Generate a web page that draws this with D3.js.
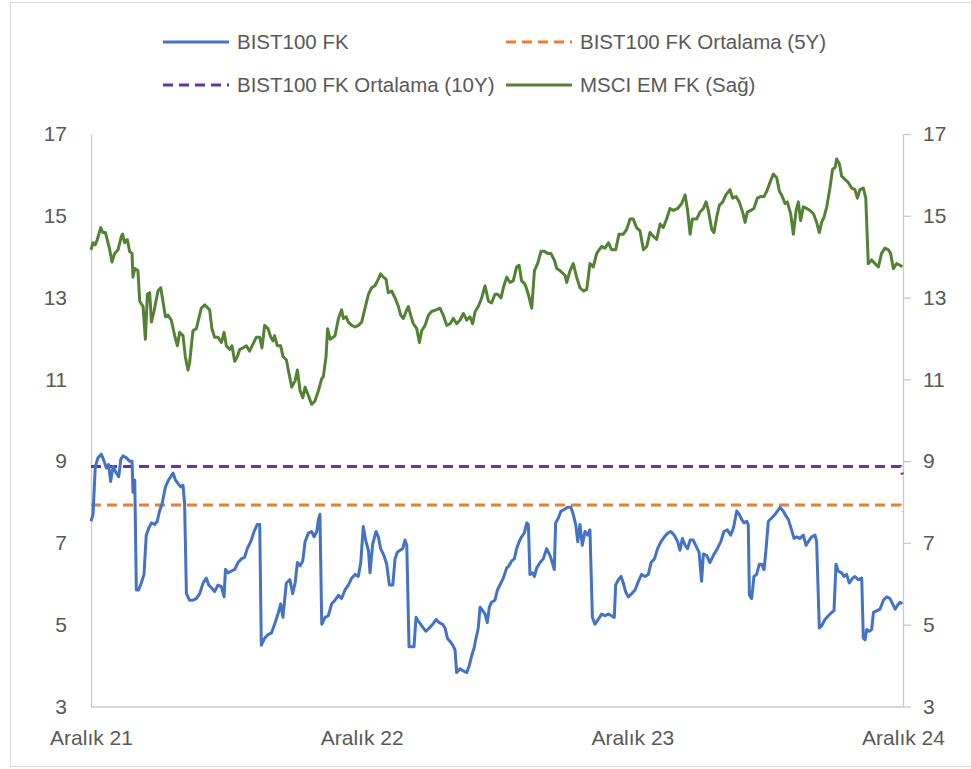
<!DOCTYPE html>
<html>
<head>
<meta charset="utf-8">
<script src="https://cdn.jsdelivr.net/npm/d3@7"></script>
<style>
  body { margin: 0; background: #fff; }
  svg { display: block; font-family: "Liberation Sans", Arial, sans-serif; }
  .axis text { fill: #595959; font-size: 21px; }
  .axis path, .axis line { stroke: #c9c9c9; stroke-width: 1.3; }
</style>
</head>
<body>
<div id="chart"></div>
<script>
// x values are months since December 2021
const xTickMonths = [0, 12, 24, 36];
const xTickLabels = ["Aralık 21", "Aralık 22", "Aralık 23", "Aralık 24"];
const yTicks = [3, 5, 7, 9, 11, 13, 15, 17];

const seriesNames = ["BIST100 FK", "BIST100 FK Ortalama (5Y)", "BIST100 FK Ortalama (10Y)", "MSCI EM FK (Sağ)"];

const bist100FK = [
  [0.00,7.53],[0.09,7.70],[0.19,8.87],[0.31,9.08],[0.46,9.17],[0.58,9.00],[0.68,8.83],[0.78,8.92],[0.87,8.50],[0.98,8.87],
  [1.12,8.71],[1.23,8.62],[1.32,9.04],[1.42,9.13],[1.57,9.08],[1.71,9.00],[1.82,9.00],[1.86,8.24],[1.94,8.54],[2.01,5.85],
  [2.11,5.85],[2.23,6.02],[2.35,6.23],[2.45,7.19],[2.56,7.36],[2.68,7.49],[2.82,7.45],[2.94,7.53],[3.04,7.78],[3.15,7.95],
  [3.30,8.37],[3.44,8.54],[3.64,8.71],[3.74,8.54],[3.86,8.45],[3.98,8.37],[4.08,8.41],[4.15,7.95],[4.23,5.76],[4.37,5.60],
  [4.52,5.60],[4.67,5.64],[4.82,5.76],[4.97,6.02],[5.11,6.14],[5.22,5.97],[5.36,5.89],[5.48,5.81],[5.63,5.97],[5.78,5.93],
  [5.90,5.68],[5.96,6.35],[6.07,6.27],[6.22,6.31],[6.37,6.35],[6.52,6.52],[6.67,6.61],[6.81,6.65],[6.93,6.86],[7.08,7.03],
  [7.23,7.28],[7.37,7.45],[7.48,7.45],[7.55,4.50],[7.70,4.67],[7.85,4.76],[8.00,4.80],[8.14,5.01],[8.29,5.26],[8.41,5.51],
  [8.51,5.18],[8.66,6.02],[8.82,6.10],[8.94,5.76],[9.05,6.02],[9.15,6.52],[9.27,6.44],[9.39,6.56],[9.49,7.03],[9.64,7.24],
  [9.78,7.28],[9.89,7.15],[10.01,7.28],[10.08,7.57],[10.15,7.70],[10.23,5.01],[10.38,5.18],[10.52,5.22],[10.67,5.51],[10.82,5.60],
  [10.97,5.72],[11.11,5.64],[11.26,5.85],[11.41,5.97],[11.56,6.14],[11.71,6.23],[11.85,6.18],[11.96,6.52],[12.07,7.40],[12.19,7.03],
  [12.30,6.82],[12.37,6.27],[12.49,6.98],[12.64,7.28],[12.74,7.15],[12.84,6.86],[12.99,6.69],[13.11,6.48],[13.23,5.97],[13.38,5.97],
  [13.48,6.61],[13.58,6.77],[13.70,6.82],[13.82,6.86],[13.92,7.07],[14.00,6.94],[14.10,4.46],[14.22,4.46],[14.32,4.46],[14.41,5.18],
  [14.51,5.09],[14.62,5.01],[14.73,4.92],[14.85,4.84],[15.00,4.92],[15.15,5.01],[15.30,5.13],[15.44,5.05],[15.59,5.01],[15.70,4.92],
  [15.80,4.67],[15.92,4.59],[16.04,4.50],[16.14,4.38],[16.21,3.83],[16.36,3.92],[16.51,3.87],[16.66,3.83],[16.77,4.00],[16.88,4.25],
  [16.98,4.42],[17.07,4.67],[17.17,4.92],[17.25,5.43],[17.37,5.34],[17.47,5.26],[17.57,5.05],[17.66,5.43],[17.76,5.55],[17.91,5.60],
  [18.02,5.85],[18.13,5.97],[18.28,6.14],[18.43,6.39],[18.53,6.44],[18.65,6.56],[18.77,6.61],[18.87,6.86],[18.98,7.03],[19.09,7.15],
  [19.21,7.24],[19.32,7.49],[19.39,7.45],[19.46,6.23],[19.57,6.27],[19.66,6.18],[19.76,6.39],[19.91,6.52],[20.05,6.61],[20.20,6.86],
  [20.35,6.69],[20.45,6.52],[20.54,6.35],[20.60,7.49],[20.72,7.61],[20.84,7.78],[20.99,7.82],[21.13,7.87],[21.28,7.87],[21.38,7.70],
  [21.49,7.45],[21.58,7.03],[21.68,7.45],[21.78,6.94],[21.90,7.28],[22.02,7.19],[22.12,7.32],[22.23,5.18],[22.34,5.01],[22.49,5.13],
  [22.64,5.26],[22.79,5.22],[22.94,5.26],[23.08,5.22],[23.20,5.18],[23.26,5.97],[23.38,6.10],[23.50,6.18],[23.60,6.02],[23.70,5.81],
  [23.82,5.68],[23.97,5.76],[24.12,5.85],[24.27,6.06],[24.41,6.23],[24.56,6.18],[24.71,6.23],[24.83,6.52],[24.98,6.61],[25.12,6.86],
  [25.27,7.03],[25.42,7.15],[25.57,7.24],[25.71,7.28],[25.86,7.19],[26.01,7.03],[26.11,6.82],[26.22,7.11],[26.34,6.94],[26.45,6.86],
  [26.56,7.07],[26.70,7.07],[26.81,6.94],[26.96,6.77],[27.07,6.06],[27.15,6.73],[27.30,6.69],[27.44,6.52],[27.59,6.69],[27.77,6.86],
  [27.92,7.03],[28.06,7.28],[28.21,7.32],[28.36,7.19],[28.48,7.36],[28.63,7.78],[28.74,7.70],[28.85,7.57],[28.95,7.49],[29.07,7.53],
  [29.14,7.45],[29.19,5.72],[29.29,5.64],[29.39,6.18],[29.51,6.23],[29.63,6.48],[29.73,6.48],[29.84,6.35],[29.93,6.86],[30.03,7.53],
  [30.18,7.61],[30.33,7.70],[30.43,7.78],[30.55,7.87],[30.69,7.78],[30.81,7.66],[30.92,7.57],[31.06,7.32],[31.17,7.11],[31.29,7.15],
  [31.43,7.11],[31.58,7.19],[31.70,6.94],[31.80,7.03],[31.95,7.15],[32.10,7.19],[32.17,7.03],[32.29,4.92],[32.39,4.97],[32.54,5.13],
  [32.69,5.22],[32.84,5.30],[32.94,5.34],[33.03,6.48],[33.13,6.31],[33.28,6.27],[33.38,6.18],[33.50,6.23],[33.62,6.02],[33.77,6.14],
  [33.87,6.18],[34.02,6.10],[34.17,6.14],[34.24,4.67],[34.32,4.63],[34.39,4.88],[34.51,4.84],[34.61,4.88],[34.69,5.30],[34.83,5.34],
  [34.98,5.38],[35.13,5.60],[35.28,5.68],[35.42,5.64],[35.54,5.51],[35.65,5.38],[35.75,5.47],[35.87,5.55],[35.97,5.51]
];

const bistAvg5Y = [[0, 7.93], [35.9, 7.93], [35.97, 7.77]];
const bistAvg10Y = [[0, 8.87], [35.9, 8.87], [35.97, 8.67]];

const msciEmFK = [
  [0.00,14.17],[0.09,14.34],[0.19,14.29],[0.28,14.42],[0.43,14.71],[0.53,14.59],[0.64,14.59],[0.72,14.42],[0.83,14.17],[0.93,13.87],
  [1.05,14.08],[1.20,14.17],[1.35,14.50],[1.40,14.55],[1.49,14.34],[1.61,14.42],[1.71,14.13],[1.82,14.08],[1.86,13.50],[1.94,13.71],
  [2.08,13.66],[2.16,12.91],[2.31,12.78],[2.41,11.98],[2.50,13.08],[2.60,13.12],[2.68,12.40],[2.79,12.66],[2.97,13.16],[3.09,13.24],
  [3.19,12.91],[3.30,12.53],[3.41,12.57],[3.56,12.45],[3.71,12.07],[3.83,11.82],[3.93,12.15],[4.08,12.07],[4.18,11.56],[4.30,11.23],
  [4.37,11.40],[4.52,12.19],[4.67,12.24],[4.74,12.40],[4.89,12.74],[5.04,12.82],[5.19,12.74],[5.26,12.70],[5.36,12.24],[5.48,12.03],
  [5.63,12.03],[5.78,11.90],[5.90,12.15],[6.00,11.82],[6.15,11.73],[6.25,11.82],[6.37,11.44],[6.49,11.56],[6.59,11.73],[6.74,11.77],
  [6.89,11.82],[7.03,11.69],[7.18,11.86],[7.33,12.03],[7.48,12.03],[7.58,11.77],[7.70,12.32],[7.85,12.24],[7.97,12.03],[8.07,11.94],
  [8.14,12.07],[8.26,11.82],[8.41,11.82],[8.51,11.56],[8.66,11.48],[8.78,11.14],[8.90,10.81],[9.05,10.97],[9.15,11.23],[9.27,10.72],
  [9.39,10.55],[9.49,10.81],[9.64,10.60],[9.78,10.39],[9.93,10.47],[10.08,10.72],[10.23,11.02],[10.30,11.06],[10.42,11.56],[10.49,12.24],
  [10.60,11.98],[10.74,12.03],[10.82,12.07],[10.97,12.49],[11.11,12.70],[11.19,12.49],[11.31,12.53],[11.41,12.40],[11.56,12.32],[11.71,12.28],
  [11.85,12.32],[12.00,12.40],[12.15,12.74],[12.30,13.08],[12.44,13.24],[12.59,13.29],[12.74,13.45],[12.84,13.58],[12.96,13.50],[13.08,13.45],
  [13.18,13.12],[13.33,13.16],[13.48,12.99],[13.63,12.78],[13.73,12.57],[13.85,12.49],[13.97,12.66],[14.07,12.78],[14.17,12.57],[14.29,12.36],
  [14.44,12.24],[14.56,11.90],[14.66,12.19],[14.81,12.32],[14.96,12.57],[15.10,12.66],[15.30,12.70],[15.47,12.74],[15.62,12.57],[15.77,12.32],
  [15.92,12.36],[16.06,12.49],[16.21,12.36],[16.36,12.45],[16.51,12.61],[16.66,12.45],[16.80,12.53],[16.92,12.36],[17.03,12.66],[17.17,12.78],
  [17.32,12.99],[17.47,13.29],[17.62,12.91],[17.76,12.87],[17.91,13.08],[18.03,13.08],[18.18,12.99],[18.28,13.24],[18.43,13.50],[18.58,13.37],
  [18.72,13.41],[18.87,13.75],[18.98,13.79],[19.09,13.41],[19.24,13.33],[19.39,13.08],[19.54,12.74],[19.66,13.66],[19.80,13.83],[19.95,14.13],
  [20.10,14.13],[20.25,14.08],[20.39,14.08],[20.54,13.92],[20.65,13.71],[20.79,13.66],[21.02,13.54],[21.09,13.37],[21.24,13.66],[21.38,13.83],
  [21.53,13.50],[21.68,13.24],[21.83,13.16],[21.98,13.20],[22.12,13.83],[22.27,13.75],[22.42,14.08],[22.64,14.25],[22.79,14.21],[22.94,14.34],
  [23.08,14.17],[23.26,14.17],[23.41,14.55],[23.60,14.55],[23.75,14.67],[23.90,14.92],[24.04,14.92],[24.19,14.71],[24.34,14.63],[24.49,14.17],
  [24.64,14.25],[24.78,14.59],[24.93,14.50],[25.08,14.42],[25.23,14.80],[25.37,14.71],[25.52,14.92],[25.67,15.18],[25.82,15.13],[26.01,15.18],
  [26.19,15.30],[26.34,15.51],[26.45,15.13],[26.56,14.55],[26.66,14.92],[26.85,14.92],[27.00,15.09],[27.15,15.18],[27.27,15.34],[27.37,15.13],
  [27.52,14.67],[27.62,14.59],[27.74,14.97],[27.86,15.26],[28.01,15.34],[28.15,15.51],[28.33,15.64],[28.45,15.43],[28.60,15.47],[28.74,15.34],
  [28.89,15.09],[29.00,14.84],[29.10,15.09],[29.25,15.13],[29.39,15.18],[29.54,15.43],[29.69,15.47],[29.84,15.47],[29.96,15.60],[30.10,15.81],
  [30.25,16.02],[30.40,15.93],[30.52,15.60],[30.62,15.51],[30.77,15.30],[30.87,15.34],[31.02,15.05],[31.14,14.55],[31.26,15.13],[31.36,15.34],
  [31.46,14.88],[31.58,15.22],[31.73,15.18],[31.88,15.13],[32.03,15.05],[32.17,14.84],[32.29,14.59],[32.39,14.84],[32.50,14.97],[32.62,15.22],
  [32.76,15.68],[32.88,16.14],[32.99,16.18],[33.06,16.39],[33.18,16.27],[33.28,15.97],[33.43,15.89],[33.58,15.81],[33.72,15.68],[33.87,15.64],
  [33.98,15.43],[34.09,15.64],[34.24,15.68],[34.35,15.43],[34.46,13.83],[34.61,13.92],[34.76,13.83],[34.91,13.75],[35.05,14.08],[35.20,14.21],
  [35.35,14.17],[35.45,14.08],[35.57,13.71],[35.72,13.83],[35.87,13.79],[35.97,13.75]
];

const colors = { bist: "#4472C4", avg5: "#ED7D31", avg10: "#7030A0", msci: "#548235" };

const width = 971, height = 769;
const plot = { left: 91, right: 903, top: 134, bottom: 706.5 };

const svg = d3.select("#chart").append("svg")
  .attr("width", width)
  .attr("height", height);

svg.append("rect")
  .attr("x", 10.5).attr("y", 2.5)
  .attr("width", 1000).attr("height", 764)
  .attr("fill", "#fff")
  .attr("stroke", "#d9d9d9");

const x = d3.scaleLinear().domain([0, 36]).range([plot.left, plot.right]);
const yLeft = d3.scaleLinear().domain([3, 17]).range([plot.bottom, plot.top]);
const yRight = d3.scaleLinear().domain([3, 17]).range([plot.bottom, plot.top]);

// axes
svg.append("g")
  .attr("class", "axis")
  .attr("transform", `translate(0,${plot.bottom})`)
  .call(d3.axisBottom(x).tickValues(xTickMonths).tickSize(0).tickPadding(24)
    .tickFormat((d, i) => xTickLabels[i]));

svg.append("g")
  .attr("class", "axis")
  .attr("transform", `translate(${plot.left},0)`)
  .call(d3.axisLeft(yLeft).tickValues(yTicks).tickSize(0).tickPadding(24));

svg.append("g")
  .attr("class", "axis")
  .attr("transform", `translate(${plot.right},0)`)
  .call(d3.axisRight(yRight).tickValues(yTicks).tickSizeInner(8).tickSizeOuter(0).tickPadding(12));

const line = (yScale) => d3.line().x((d) => x(d[0])).y((d) => yScale(d[1]));

const layers = [
  { data: bistAvg10Y, color: colors.avg10, dash: "10 6", scale: yLeft },
  { data: bistAvg5Y, color: colors.avg5, dash: "10 6", scale: yLeft },
  { data: msciEmFK, color: colors.msci, dash: null, scale: yRight },
  { data: bist100FK, color: colors.bist, dash: null, scale: yLeft },
];

layers.forEach((l) => {
  svg.append("path")
    .datum(l.data)
    .attr("fill", "none")
    .attr("stroke", l.color)
    .attr("stroke-width", 3)
    .attr("stroke-linejoin", "round")
    .attr("stroke-dasharray", l.dash)
    .attr("d", line(l.scale));
});

// legend
const legendItems = [
  { name: seriesNames[0], color: colors.bist, dash: null, x: 163, y: 42 },
  { name: seriesNames[1], color: colors.avg5, dash: "10 6", x: 506, y: 42 },
  { name: seriesNames[2], color: colors.avg10, dash: "10 6", x: 163, y: 85 },
  { name: seriesNames[3], color: colors.msci, dash: null, x: 506, y: 85 },
];

const legend = svg.append("g").attr("class", "legend");
legendItems.forEach((item) => {
  legend.append("line")
    .attr("x1", item.x).attr("x2", item.x + 66)
    .attr("y1", item.y).attr("y2", item.y)
    .attr("stroke", item.color)
    .attr("stroke-width", 3)
    .attr("stroke-dasharray", item.dash);
  legend.append("text")
    .attr("x", item.x + 74)
    .attr("y", item.y)
    .attr("dy", "0.35em")
    .attr("fill", "#595959")
    .attr("font-size", 20.5)
    .text(item.name);
});
</script>
</body>
</html>
